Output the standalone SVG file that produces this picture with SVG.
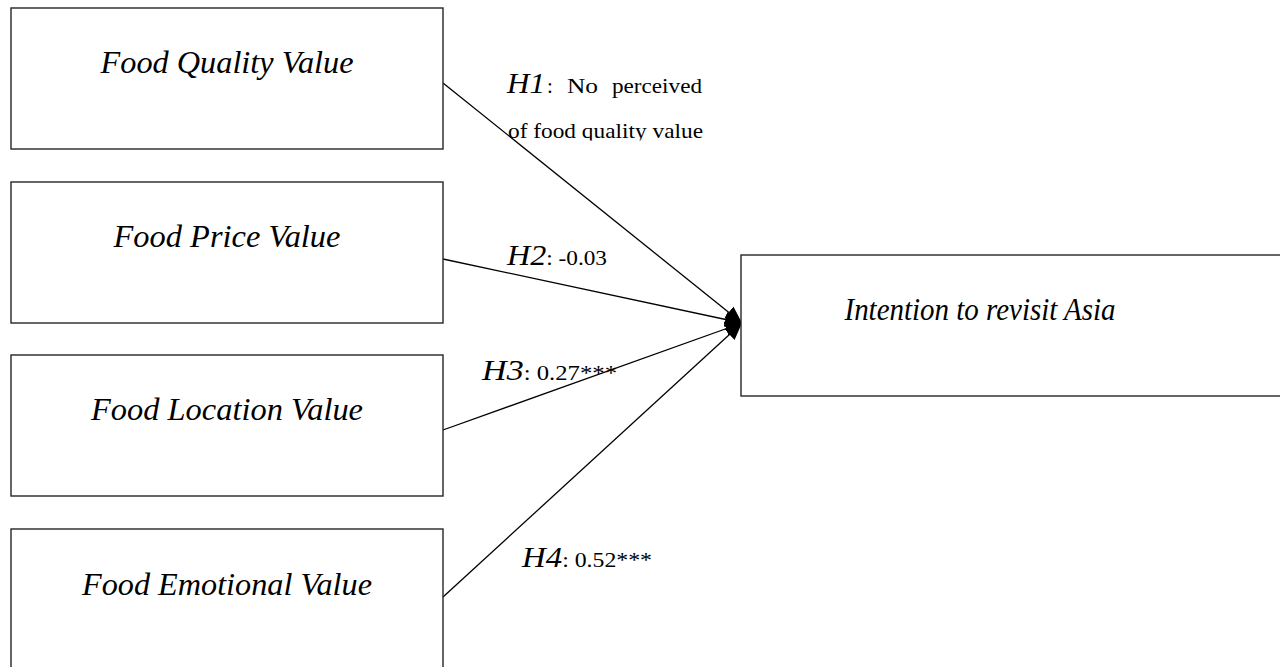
<svg xmlns="http://www.w3.org/2000/svg" width="1280" height="667" viewBox="0 0 1280 667">
<style>
.box{fill:#fff;stroke:#262626;stroke-width:1.4}
.lbl{font-family:"Liberation Serif","Times New Roman",serif;font-style:italic;font-size:31.5px;fill:#000;text-anchor:middle}
.edge{stroke:#000;stroke-width:1.3;fill:none;marker-end:url(#ah)}
.h{font-family:"Liberation Serif","Times New Roman",serif;fill:#000}
.hi{font-style:italic;font-size:29px}
.hn{font-size:21px}
</style>
<defs>
<marker id="ah" markerUnits="userSpaceOnUse" markerWidth="18" markerHeight="18" viewBox="0 0 18 18" refX="17" refY="9" orient="auto">
<path d="M0,1.5 L17,9 L0,16.5 Z" fill="#000"/>
</marker>
<clipPath id="clipH1"><rect x="440" y="60" width="300" height="80.5"/></clipPath>
</defs>
<rect width="1280" height="667" fill="#fff"/>
<g id="connectors">
<line class="edge" x1="443" y1="83" x2="742" y2="323"/>
<line class="edge" x1="443" y1="259" x2="742" y2="323"/>
<line class="edge" x1="443" y1="430" x2="742" y2="323"/>
<line class="edge" x1="443" y1="597" x2="742" y2="323"/>
</g>
<g id="node-quality">
<rect class="box" x="11" y="8" width="432" height="141"/>
<text class="lbl" x="227" y="73" textLength="253" lengthAdjust="spacingAndGlyphs">Food Quality Value</text>
</g>
<g id="node-price">
<rect class="box" x="11" y="182" width="432" height="141"/>
<text class="lbl" x="227" y="247" textLength="227" lengthAdjust="spacingAndGlyphs">Food Price Value</text>
</g>
<g id="node-location">
<rect class="box" x="11" y="355" width="432" height="141"/>
<text class="lbl" x="227" y="420" textLength="272" lengthAdjust="spacingAndGlyphs">Food Location Value</text>
</g>
<g id="node-emotional">
<rect class="box" x="11" y="529" width="432" height="141"/>
<text class="lbl" x="227" y="595" textLength="290" lengthAdjust="spacingAndGlyphs">Food Emotional Value</text>
</g>
<g id="node-intention">
<rect class="box" x="741" y="255" width="540" height="141"/>
<text class="lbl" x="980" y="320" textLength="271" lengthAdjust="spacingAndGlyphs">Intention to revisit Asia</text>
</g>
<g id="labels">
<g clip-path="url(#clipH1)">
<text class="h hi" x="507" y="93" textLength="38" lengthAdjust="spacingAndGlyphs">H1</text>
<text class="h hn" x="547" y="93">:</text>
<text class="h hn" x="567" y="93" textLength="31" lengthAdjust="spacingAndGlyphs">No</text>
<text class="h hn" x="612" y="93" textLength="90" lengthAdjust="spacingAndGlyphs">perceived</text>
<text class="h hn" x="508" y="138" textLength="195" lengthAdjust="spacingAndGlyphs">of food quality value</text>
</g>
<text class="h" x="507" y="265" textLength="100" lengthAdjust="spacingAndGlyphs"><tspan class="hi">H2</tspan><tspan class="hn">: -0.03</tspan></text>
<text class="h" x="482" y="380" textLength="135" lengthAdjust="spacingAndGlyphs"><tspan class="hi">H3</tspan><tspan class="hn">: 0.27***</tspan></text>
<text class="h" x="522" y="567" textLength="130" lengthAdjust="spacingAndGlyphs"><tspan class="hi">H4</tspan><tspan class="hn">: 0.52***</tspan></text>
</g>
</svg>
